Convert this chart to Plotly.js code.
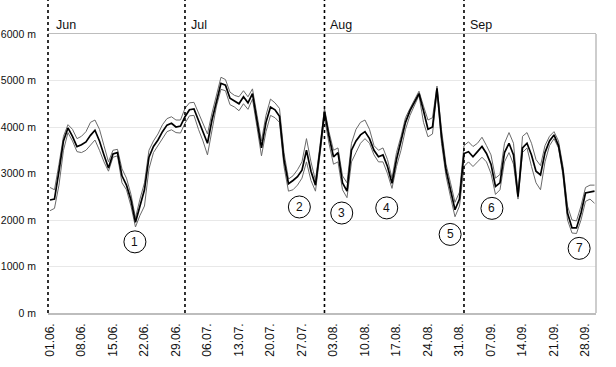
<!DOCTYPE html>
<html>
<head>
<meta charset="utf-8">
<script src="https://cdn.plot.ly/plotly-3.0.1.min.js"></script>
<style>html,body{margin:0;padding:0;background:#fff;}#chart{width:616px;height:367px;}</style>
</head>
<body>
<div id="chart"></div>
<script>
// Daily series, 01.06. – 30.09. (122 days)
var startDate = '2021-06-01';
var meanHeight = [
 2430,2450,3050,3700,3980,3800,3580,3620,3680,3820,3930,3700,3400,3120,3420,3450,2950,2750,2430,1950,2300,2650,3350,3580,3720,3900,4040,4080,4000,4020,
 4220,4370,4390,4150,3900,3650,4150,4580,4940,4900,4620,4560,4500,4650,4520,4720,4150,3550,4100,4430,4370,4230,3300,2780,2850,2930,3070,3500,3050,2750,3500,
 4330,3800,3360,3450,2800,2620,3500,3700,3830,3900,3750,3500,3360,3400,3150,2790,3300,3700,4100,4350,4520,4720,4350,3950,4000,4830,3800,3080,2650,2220,2450,
 3430,3470,3360,3470,3580,3430,3200,2720,2800,3450,3650,3400,2500,3550,3650,3400,3050,2970,3450,3700,3830,3600,3050,2150,1830,1830,2150,2580,2600,2620
];
var upperHeight = [
 2700,2650,3200,3800,4050,3950,3750,3800,3900,4100,4150,3950,3600,3250,3500,3520,3100,2900,2550,2050,2450,2800,3500,3700,3850,4050,4180,4220,4150,4150,
 4400,4520,4530,4300,4050,3850,4300,4700,5070,5020,4750,4680,4650,4780,4650,4820,4300,3700,4250,4600,4520,4400,3450,2880,2950,3080,3250,3750,3250,2850,3600,
 4400,3900,3500,3550,2950,2800,3650,3950,4100,4150,3950,3600,3500,3550,3300,2900,3450,3800,4200,4400,4580,4770,4450,4150,4200,4880,3950,3200,2800,2380,2600,
 3600,3680,3580,3650,3780,3600,3400,2900,2980,3650,3880,3650,2550,3800,3880,3650,3300,3170,3600,3800,3900,3700,3150,2300,2000,1980,2300,2700,2750,2750
];
var lowerHeight = [
 2200,2250,2750,3500,3880,3700,3470,3450,3500,3600,3720,3500,3250,3050,3350,3380,2800,2650,2300,1850,2100,2300,3100,3450,3600,3750,3900,3940,3880,3870,
 4080,4240,4250,3950,3700,3400,3950,4450,4810,4780,4480,4430,4350,4500,4380,4600,4000,3380,3900,4250,4200,4100,3150,2620,2650,2750,2900,3250,2850,2620,3400,
 4200,3650,3200,3250,2650,2480,3250,3450,3650,3750,3650,3400,3250,3250,3000,2680,3150,3500,3950,4250,4450,4680,4100,3790,3850,4780,3650,2950,2500,2070,2300,
 3150,3250,3150,3250,3350,3250,3000,2550,2650,3250,3450,3200,2450,3450,3550,3150,2800,2650,3250,3600,3750,3550,2950,2000,1720,1710,2000,2400,2450,2360
];
var monthNames = ['Jun','Jul','Aug','Sep'];
var monthStarts = ['2021-06-01','2021-07-01','2021-08-01','2021-09-01'];
var markerLabels = ['1','2','3','4','5','6','7'];
var markerDates = ['2021-06-19 21:00','2021-07-26 10:00','2021-08-04 20:00','2021-08-14 20:00','2021-08-28 22:00','2021-09-07 05:00','2021-09-26 14:00'];
var markerHeights = [1530,2280,2150,2260,1690,2250,1390];
var yTicks = [0,1000,2000,3000,4000,5000,6000];
var yTickText = ['0 m','1000 m','2000 m','3000 m','4000 m','5000 m','6000 m'];

var dates = [];
(function(){
  var d0 = new Date(startDate + 'T00:00:00Z');
  for (var i = 0; i < meanHeight.length; i++) {
    var d = new Date(d0.getTime() + i*86400000);
    dates.push(d.toISOString().slice(0,10));
  }
})();

var traces = [
  {x: dates, y: upperHeight, mode: 'lines', line: {color: '#6a6a6a', width: 1}, hoverinfo: 'skip'},
  {x: dates, y: lowerHeight, mode: 'lines', line: {color: '#6a6a6a', width: 1}, hoverinfo: 'skip'},
  {x: dates, y: meanHeight, mode: 'lines', line: {color: '#000000', width: 1.7}, hoverinfo: 'skip'}
];

var FONT = 'Liberation Sans, Arial, sans-serif';
var shapes = [];
var annotations = [];
shapes.push({type:'line', xref:'paper', yref:'paper', x0:0, x1:0, y0:0, y1:1.122, line:{color:'#000', width:1.6, dash:'dot'}});
shapes.push({type:'line', xref:'paper', yref:'paper', x0:1, x1:1, y0:0, y1:1, line:{color:'#bdbdbd', width:1.5}});
for (var m = 0; m < monthStarts.length; m++) {
  if (m > 0) shapes.push({type:'line', xref:'x', yref:'paper', x0:monthStarts[m], x1:monthStarts[m], y0:0, y1:1.122, line:{color:'#000', width:1.6, dash:'dot'}});
  annotations.push({xref:'x', yref:'paper', x:monthStarts[m], y:1, xanchor:'left', yanchor:'middle', yshift:9, xshift:4, text:monthNames[m], showarrow:false, font:{family:FONT, size:12.5, color:'#111'}});
}
for (var k = 0; k < markerLabels.length; k++) {
  shapes.push({type:'circle', xref:'x', yref:'y', xsizemode:'pixel', ysizemode:'pixel', xanchor:markerDates[k], yanchor:markerHeights[k], x0:-11, x1:11, y0:-11, y1:11, line:{color:'#000', width:1}, fillcolor:'#fff'});
  annotations.push({xref:'x', yref:'y', x:markerDates[k], y:markerHeights[k], text:markerLabels[k], showarrow:false, xanchor:'center', yanchor:'middle', font:{family:FONT, size:12, color:'#111'}});
}

var layout = {
  width: 616, height: 367,
  margin: {l: 48, r: 20, t: 34, b: 54},
  paper_bgcolor: '#fff', plot_bgcolor: '#fff',
  showlegend: false,
  font: {family: FONT, size: 11, color: '#111'},
  xaxis: {
    type: 'date',
    range: ['2021-05-31 13:30', '2021-09-30 08:00'],
    tick0: '2021-06-01', dtick: 7*86400000,
    tickformat: '%d.%m.',
    tickangle: -90,
    ticks: 'outside', ticklen: 4, tickcolor: 'rgba(0,0,0,0)',
    tickfont: {family: FONT, size: 12, color: '#111'},
    showgrid: false, zeroline: false,
    showline: true, mirror: true, linecolor: '#bdbdbd', linewidth: 1.5,
    automargin: false, fixedrange: true
  },
  yaxis: {
    range: [0, 6000],
    tickmode: 'array', tickvals: yTicks, ticktext: yTickText,
    ticks: 'outside', ticklen: 9, tickcolor: 'rgba(0,0,0,0)',
    tickfont: {family: FONT, size: 10.5, color: '#111'},
    showgrid: true, gridcolor: '#e8e8e8', gridwidth: 1,
    zeroline: false, showline: false,
    automargin: false, fixedrange: true
  },
  shapes: shapes,
  annotations: annotations
};

Plotly.newPlot('chart', traces, layout, {displayModeBar: false, staticPlot: true});
</script>
</body>
</html>
